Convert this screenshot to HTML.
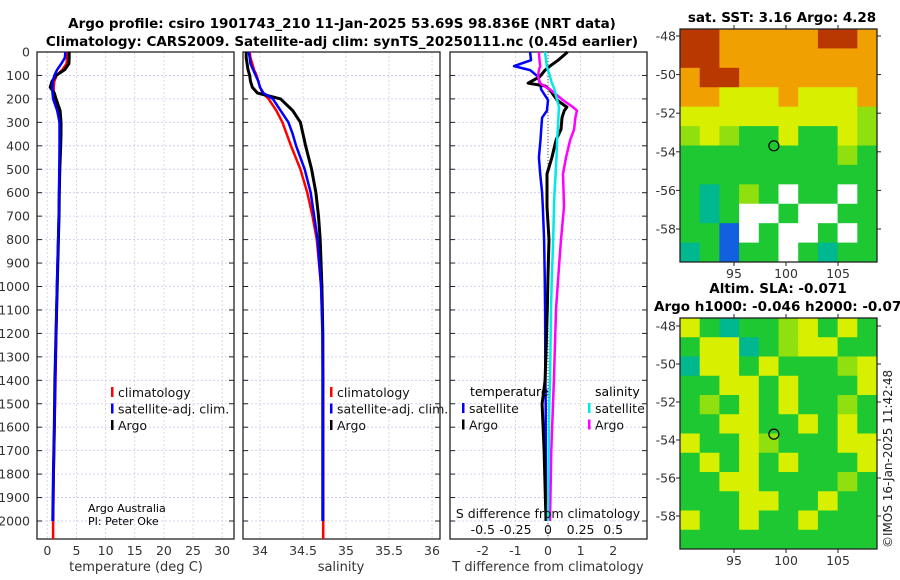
<!DOCTYPE html>
<html><head><meta charset="utf-8"><style>
body{margin:0;background:#fff;}
svg{display:block;font-family:"DejaVu Sans","Liberation Sans",sans-serif;}
</style></head><body>
<svg id="fig" width="900" height="580" viewBox="0 0 900 580" xmlns="http://www.w3.org/2000/svg">
<rect width="900" height="580" fill="#fff"/>
<text x="342" y="28" font-size="13.5" font-weight="bold" text-anchor="middle">Argo profile: csiro 1901743_210 11-Jan-2025 53.69S 98.836E (NRT data)</text>
<text x="342" y="46" font-size="13.5" font-weight="bold" text-anchor="middle">Climatology: CARS2009. Satellite-adj clim: synTS_20250111.nc (0.45d earlier)</text>
<text x="782" y="22" font-size="13.5" font-weight="bold" text-anchor="middle">sat. SST: 3.16 Argo: 4.28</text>
<text x="778" y="293" font-size="13.5" font-weight="bold" text-anchor="middle">Altim. SLA: -0.071</text>
<text x="654" y="311" font-size="13.5" font-weight="bold">Argo h1000: -0.046 h2000: -0.07</text>
<text transform="translate(892,548) rotate(-90)" font-size="12" fill="#222">©IMOS 16-Jan-2025 11:42:48</text>
<g id="panels"></g>
</svg>
<script>
// ---- data ----
const depths = [0,25,50,75,100,125,150,175,200,250,300,350,400,500,600,700,800,1000,1200,1400,1600,1800,2000];
const tempClim = [3.4,3.4,3.3,2.6,1.6,1.2,1.1,1.1,1.2,1.9,2.2,2.25,2.2,2.1,2.05,2.0,1.9,1.7,1.55,1.4,1.25,1.1,1.0];
const tempSat  = [3.1,3.0,2.4,1.7,1.2,0.95,0.85,0.9,1.0,1.7,2.1,2.1,2.1,2.05,2.0,1.95,1.85,1.65,1.5,1.35,1.2,1.05,0.95];
const tempArgo = [3.75,3.75,3.7,3.0,1.5,0.8,0.5,1.2,1.5,2.2,2.35,2.35,2.3,2.15,2.05,2.0,1.9,1.7,1.5,1.3,1.2,1.05,0.95];
const salClim = [33.88,33.89,33.91,33.93,33.96,33.98,34.0,34.03,34.1,34.19,34.26,34.31,34.36,34.47,34.55,34.61,34.66,34.71,34.73,34.735,34.735,34.735,34.735];
const salSat  = [33.87,33.88,33.89,33.92,33.95,33.98,34.0,34.04,34.15,34.24,34.33,34.38,34.42,34.52,34.59,34.63,34.67,34.71,34.725,34.73,34.73,34.73,34.73];
const salArgo = [33.84,33.84,33.85,33.86,33.88,33.89,33.91,33.97,34.24,34.38,34.47,34.5,34.53,34.6,34.65,34.68,34.7,34.72,34.73,34.73,34.73,34.73,34.73];
const diffDepths = [0,35,60,77,105,133,145,160,205,235,250,280,330,375,450,520,600,660,800,950,1100,1400,1500,1700,2000];
const dTsat  = [-0.55,-0.52,-1.04,-0.55,-0.31,-0.25,-0.23,-0.21,0,-0.02,-0.03,-0.18,-0.21,-0.23,-0.28,-0.24,-0.18,-0.16,-0.12,-0.1,-0.09,-0.08,-0.07,-0.07,-0.06];
const dTargo = [0.6,0.31,0.06,-0.09,-0.25,-0.61,-0.09,0.05,0.28,0.58,0.5,0.43,0.4,0.25,0.12,-0.03,-0.03,-0.03,0.03,0,-0.02,-0.09,-0.18,-0.12,-0.06];
const dSsat  = [-0.023,-0.015,-0.01,0,0.015,0.03,0.04,0.05,0.07,0.084,0.083,0.08,0.075,0.07,0.065,0.058,0.05,0.046,0.04,0.03,0.023,0.015,0.01,0.005,0];
const dSargo = [-0.07,-0.065,-0.06,-0.07,-0.077,-0.06,-0.03,0.015,0.115,0.192,0.222,0.21,0.2,0.17,0.138,0.115,0.12,0.123,0.1,0.08,0.061,0.045,0.038,0.025,0.015];
const depthTicks = [0,100,200,300,400,500,600,700,800,900,1000,1100,1200,1300,1400,1500,1600,1700,1800,1900,2000];
const tempTicks = [0,5,10,15,20,25,30];
const salTicks = [34,34.5,35,35.5,36];
const dTTicks = [-2,-1,0,1,2];
const dSTicks = [-0.5,-0.25,0,0.25,0.5];
const latTicks = [-48,-50,-52,-54,-56,-58];
const lonTicks = [95,100,105];
// map grids: r dark red, o orange, y yellow, l lime, g green, t teal, b blue, w white (no data)
const sstGrid = ["rrooooorro","rroooooooo","orrooooooo","ooyyyoyyyo","yyyyyyyyyl","lylggyggyl","gggggggglg","gggggggggg","gtglgwggwg","gtgwwgwwgg","ggbwgwwgwg","tgbggwgtgg"];
const slaGrid = ["ygtgglygyg","gyytglyygg","tyygygggly","ggyygygggy","glgygyggl g".replace(' ',''),"ggyyggygyg","yggylgggyy","gygygygggy","ggyyggggl g".replace(' ',''),"gggyyggygg","yggyggyggg","gggggggggg"];

// ---- helpers ----
const NS="http://www.w3.org/2000/svg";
const root=document.getElementById('panels');
function mk(tag,attrs,parent,text){const e=document.createElementNS(NS,tag);for(const k in attrs)e.setAttribute(k,attrs[k]);if(text!==undefined)e.textContent=text;(parent||root).appendChild(e);return e;}
const Y0=52,PXD=0.2345,TOP=52,BOT=539;
const yD=d=>Y0+d*PXD;
function panel(name,x0,x1,xs,ticks,tickFmt){
  const g=mk('g',{});
  
  
  ticks.forEach(t=>{const x=xs(t);mk('line',{x1:x,x2:x,y1:TOP,y2:BOT,stroke:'#d8c8e8','stroke-width':0.8,'stroke-dasharray':'2,2'},g);});
  depthTicks.forEach(d=>{const y=yD(d);mk('line',{x1:x0,x2:x1,y1:y,y2:y,stroke:'#c8c8f0','stroke-width':0.8,'stroke-dasharray':'2,2'},g);
    mk('line',{x1:x0,x2:x0+5,y1:y,y2:y,stroke:'#222'},g);mk('line',{x1:x1-5,x2:x1,y1:y,y2:y,stroke:'#222'},g);});
  mk('rect',{x:x0,y:TOP,width:x1-x0,height:BOT-TOP,fill:'none',stroke:'#222','stroke-width':1.3},g);
  if(tickFmt) ticks.forEach(t=>{const x=xs(t);const l=mk('text',{x:x,y:555,'font-size':12.5,'text-anchor':'middle',fill:'#333'},g,tickFmt(t));});
  return g;
}
function line(g,name,xs,xv,dv,color,w,extendTo){
  let pts=dv.map((d,i)=>xs(xv[i]).toFixed(1)+','+yD(d).toFixed(1));
  if(extendTo) pts.push(xs(xv[xv.length-1]).toFixed(1)+','+extendTo);
  const p=mk('polyline',{points:pts.join(' '),fill:'none',stroke:color,'stroke-width':w,'stroke-linejoin':'round'},g);
  
  
}
function legend(g,x,y,items){
  items.forEach((it,i)=>{const yy=y+i*16.5;
    mk('rect',{x:x,y:yy-9,width:2.5,height:10,fill:it[1]},g);
    const t=mk('text',{x:x+7,y:yy+1,'font-size':12.5,fill:'#111'},g,it[0]);
    
    });
}

// ---- panel 1: temperature ----
const xT=t=>47.3+t*5.83;
const g1=panel('temperature-panel',37,234,xT,tempTicks,t=>String(t));
depthTicks.forEach(d=>{const l=mk('text',{x:30,y:yD(d)+4.5,'font-size':12.5,'text-anchor':'end',fill:'#333'},g1,String(d));});
line(g1,'temp-climatology-line',xT,tempClim,depths,'#ff0000',2.5,BOT);
line(g1,'temp-argo-line',xT,tempArgo,depths,'#000',3);
line(g1,'temp-satellite-line',xT,tempSat,depths,'#0000ff',2.5);
legend(g1,111,396,[['climatology','#ff0000'],['satellite-adj. clim.','#0000ff'],['Argo','#000']]);
mk('text',{x:88,y:512,'font-size':11},g1,'Argo Australia');
mk('text',{x:88,y:525,'font-size':11},g1,'PI: Peter Oke');
const xl1=mk('text',{x:136,y:571,'font-size':13,'text-anchor':'middle',fill:'#333'},g1,'temperature (deg C)');


// ---- panel 2: salinity ----
const xS=s=>260+(s-34)*86;
const g2=panel('salinity-panel',243,440,xS,salTicks,s=>String(s));
line(g2,'sal-climatology-line',xS,salClim,depths,'#ff0000',2.5,BOT);
line(g2,'sal-argo-line',xS,salArgo,depths,'#000',3);
line(g2,'sal-satellite-line',xS,salSat,depths,'#0000ff',2.5);
legend(g2,330,396,[['climatology','#ff0000'],['satellite-adj. clim.','#0000ff'],['Argo','#000']]);
const xl2=mk('text',{x:341,y:571,'font-size':13,'text-anchor':'middle',fill:'#333'},g2,'salinity');


// ---- panel 3: differences ----
const xdT=t=>548+t*32.6;
const xdS=s=>548+s*130.4;
const g3=panel('difference-panel',450,647,xdT,dTTicks,t=>String(t));
mk('line',{x1:548,x2:548,y1:TOP,y2:BOT,stroke:'#555','stroke-width':1,'stroke-dasharray':'1,2'},g3);
line(g3,'dT-satellite-line',xdT,dTsat,diffDepths,'#0000ff',2.5);
line(g3,'dT-argo-line',xdT,dTargo,diffDepths,'#000',3);
line(g3,'dS-argo-line',xdS,dSargo,diffDepths,'#ff00ff',2.5);
line(g3,'dS-satellite-line',xdS,dSsat,diffDepths,'#00e8e8',2.5);
mk('text',{x:470,y:396,'font-size':12.5},g3,'temperature');
mk('text',{x:595,y:396,'font-size':12.5},g3,'salinity');
legend(g3,462,412,[['satellite','#0000ff'],['Argo','#000']]);
legend(g3,588,412,[['satellite','#00e8e8'],['Argo','#ff00ff']]);
mk('text',{x:548,y:518,'font-size':12.5,'text-anchor':'middle',fill:'#111'},g3,'S difference from climatology');
dSTicks.forEach(s=>{const l=mk('text',{x:xdS(s),y:534,'font-size':12.5,'text-anchor':'middle',fill:'#111'},g3,String(s));});
const xl3=mk('text',{x:548,y:571,'font-size':13,'text-anchor':'middle',fill:'#333'},g3,'T difference from climatology');


// ---- maps ----
const colors={r:'#b83800',o:'#f0a000',y:'#d8f000',l:'#90e010',g:'#1ec832',t:'#00b890',b:'#1060e0',w:'#ffffff'};
function map(name,grid,top,bottom,lat48,lat58){
  const x0=680,x1=877;
  const g=mk('g',{});
  
  
  const rows=grid.length,cols=grid[0].length;
  const cw=(x1-x0)/cols,ch=(bottom-top)/rows;
  grid.forEach((row,r)=>{[...row].forEach((c,k)=>{
    const cell=mk('rect',{x:x0+k*cw,y:top+r*ch,width:cw+0.5,height:ch+0.5,fill:colors[c]||'#1ec832'},g);
    
    });});
  mk('rect',{x:x0,y:top,width:x1-x0,height:bottom-top,fill:'none',stroke:'#222','stroke-width':1.3},g);
  const yl=l=>lat48+(l+48)/(-10)*(lat58-lat48);
  const xl=o=>734+(o-95)*10.4;
  latTicks.forEach(l=>{const y=yl(l);mk('line',{x1:x0-4,x2:x0,y1:y,y2:y,stroke:'#222'},g);mk('line',{x1:x1,x2:x1+4,y1:y,y2:y,stroke:'#222'},g);
    const t=mk('text',{x:x0-4,y:y+4.5,'font-size':12.5,'text-anchor':'end',fill:'#333'},g,String(l));});
  lonTicks.forEach(o=>{const x=xl(o);mk('line',{x1:x,x2:x,y1:top-4,y2:top,stroke:'#222'},g);mk('line',{x1:x,x2:x,y1:bottom,y2:bottom+4,stroke:'#222'},g);
    const t=mk('text',{x:x,y:bottom+16,'font-size':12.5,'text-anchor':'middle',fill:'#333'},g,String(o));});
  const m=mk('circle',{cx:xl(98.836),cy:yl(-53.69),r:5,fill:'none',stroke:'#000','stroke-width':1.2},g);
  
  
}
map('sst-map',sstGrid,29,262,36,229);
map('sla-map',slaGrid,318,549,326,516);
</script>
</body></html>
